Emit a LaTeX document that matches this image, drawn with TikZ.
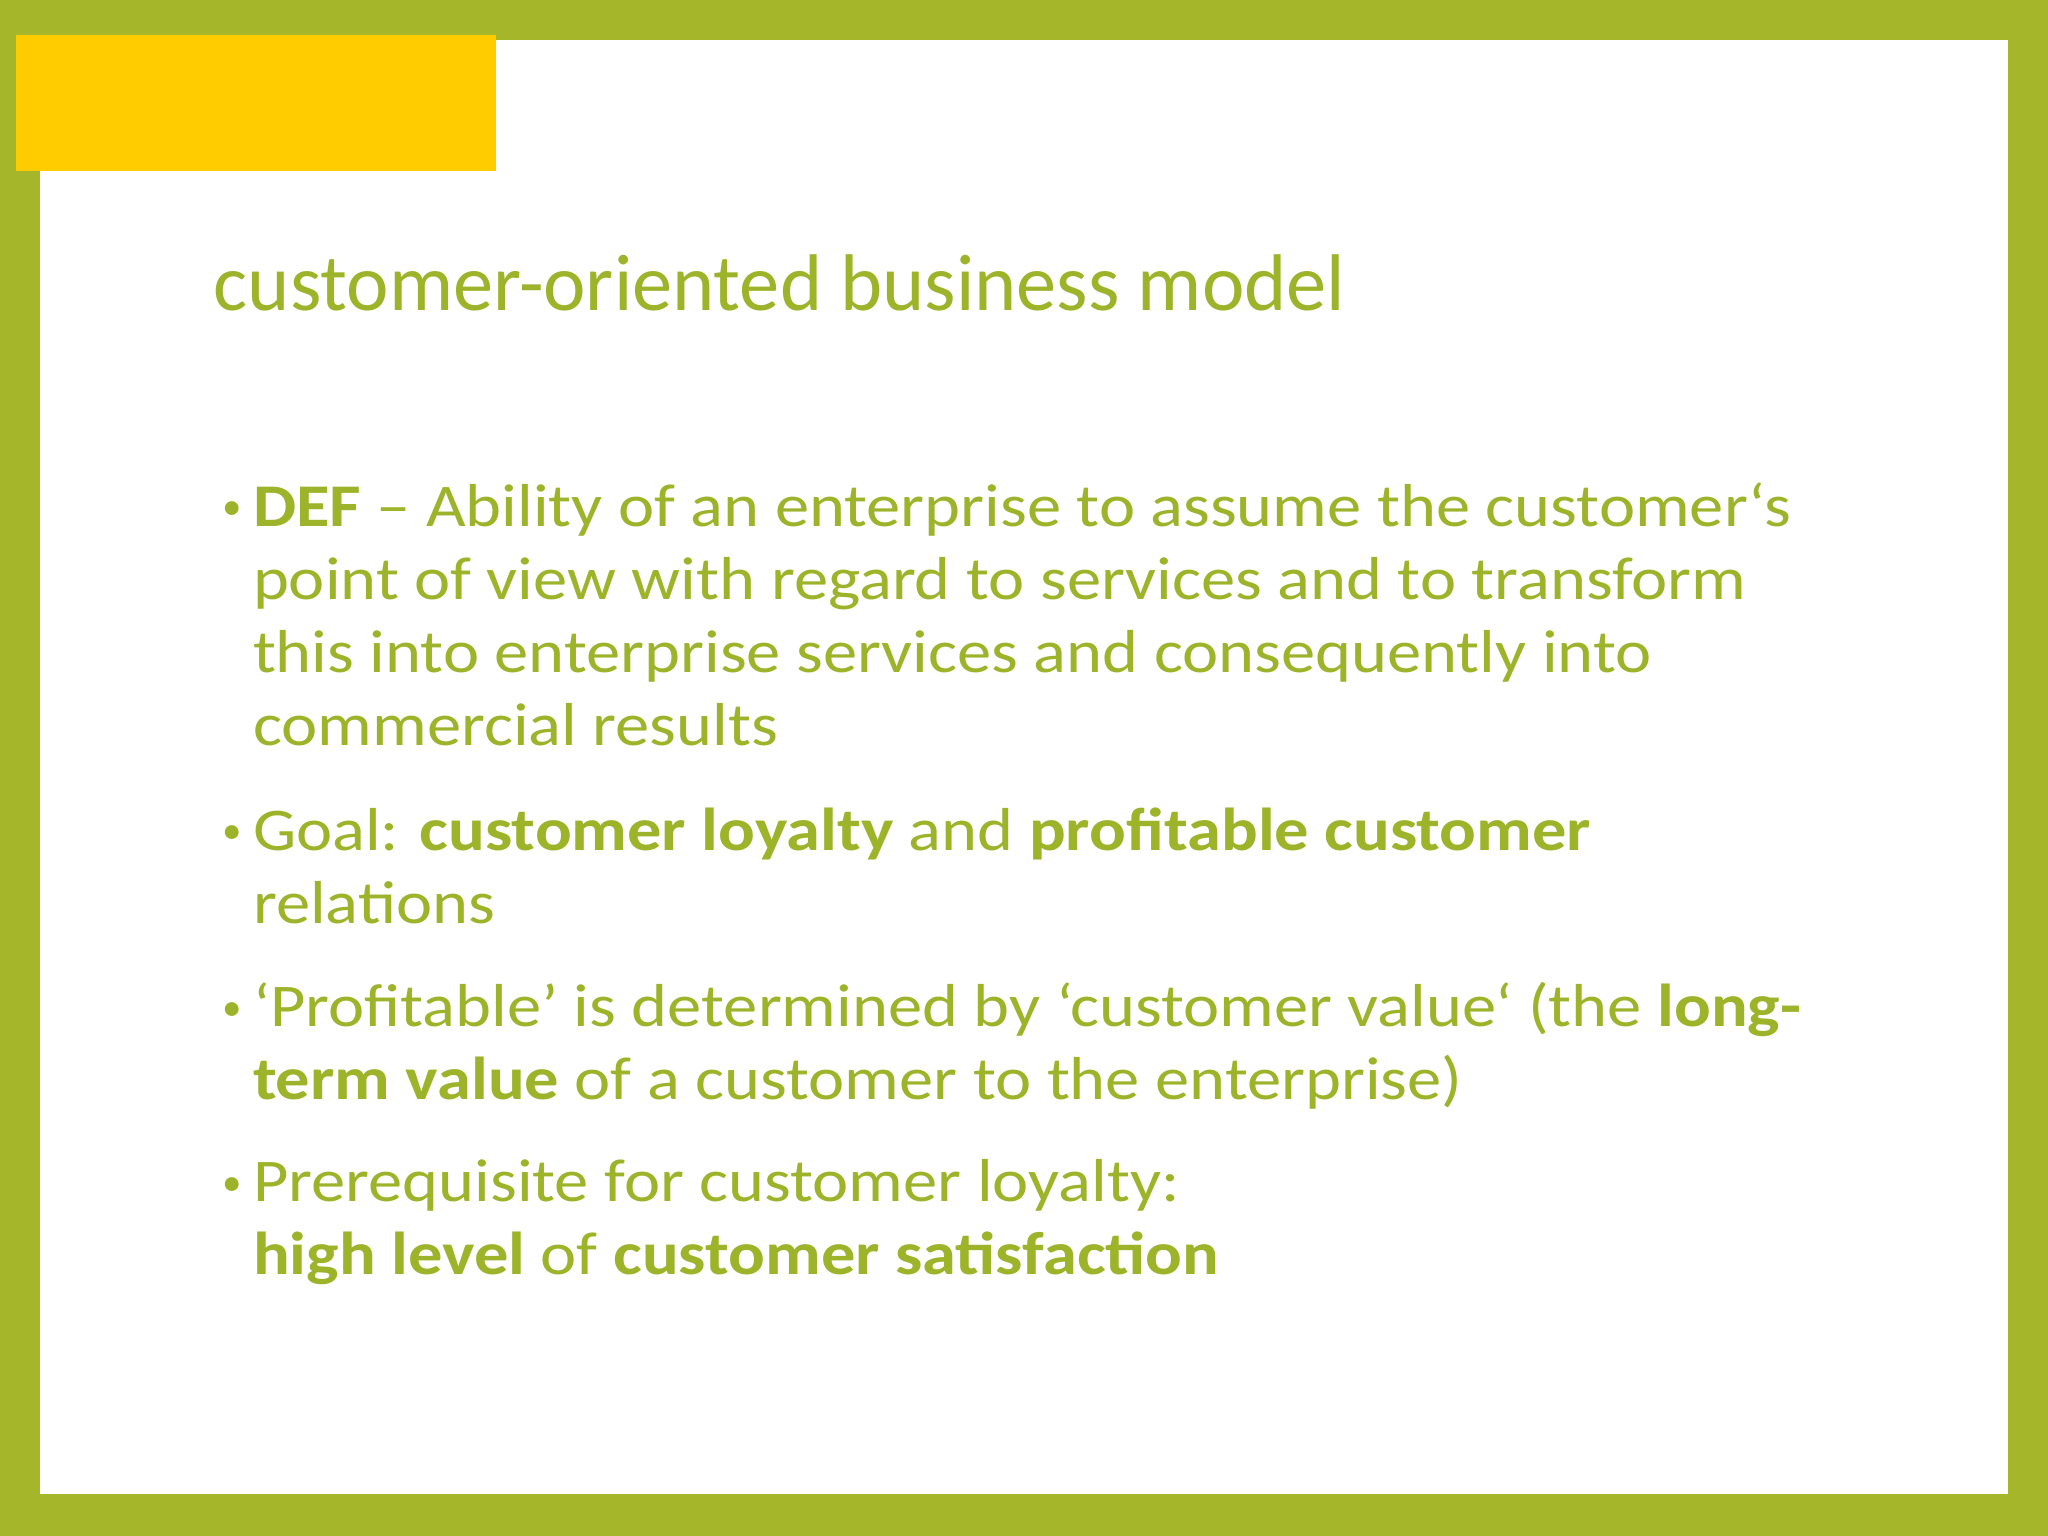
\documentclass[tikz,border=0pt]{standalone}
\usepackage{fontspec}
\setmainfont{Carlito}
\newfontfamily\bodyf[FakeStretch=1.13]{Carlito}
\definecolor{grn}{HTML}{A5B62A}
\definecolor{txt}{HTML}{9DB42A}
\definecolor{yel}{HTML}{FFCC00}
\begin{document}
\begin{tikzpicture}[x=0.01cm,y=-0.01cm,
  ln/.style={anchor=base west,inner sep=0pt,text=txt,font=\bodyf\fontsize{13.2}{15}\selectfont},
  bl/.style={anchor=base west,inner sep=0pt,text=txt,font=\fontsize{8.5}{9}\selectfont}]
\fill[grn] (0,0) rectangle (1568,1176);
\fill[white] (31,31) rectangle (1537,1144);
\fill[yel] (12,27) rectangle (380,131);
\node[anchor=base west,inner sep=0pt,text=txt,font=\fontsize{17.5}{20}\selectfont] (title) at (163,238) {customer-oriented business model};
\node[bl] (b1) at (170,398) {•};
\node[ln] (l1) at (193,403) {\textbf{DEF} – Ability of an enterprise to assume the customer‘s};
\node[ln] (l2) at (193,459) {point of view with regard to services and to transform};
\node[ln] (l3) at (193,515) {this into enterprise services and consequently into};
\node[ln] (l4) at (193,571) {commercial results};
\node[bl] (b2) at (170,646) {•};
\node[ln] (l5) at (193,651) {Goal: \textbf{customer loyalty} and \textbf{profitable customer}};
\node[ln] (l6) at (193,707) {relations};
\node[bl] (b3) at (170,781) {•};
\node[ln] (l7) at (193,786) {‘Profitable’ is determined by ‘customer value‘ (the \textbf{long-}};
\node[ln] (l8) at (193,842) {\textbf{term value} of a customer to the enterprise)};
\node[bl] (b4) at (170,915) {•};
\node[ln] (l9) at (193,920) {Prerequisite for customer loyalty:};
\node[ln] (l10) at (193,976) {\textbf{high level} of \textbf{customer satisfaction}};
\end{tikzpicture}
\end{document}
